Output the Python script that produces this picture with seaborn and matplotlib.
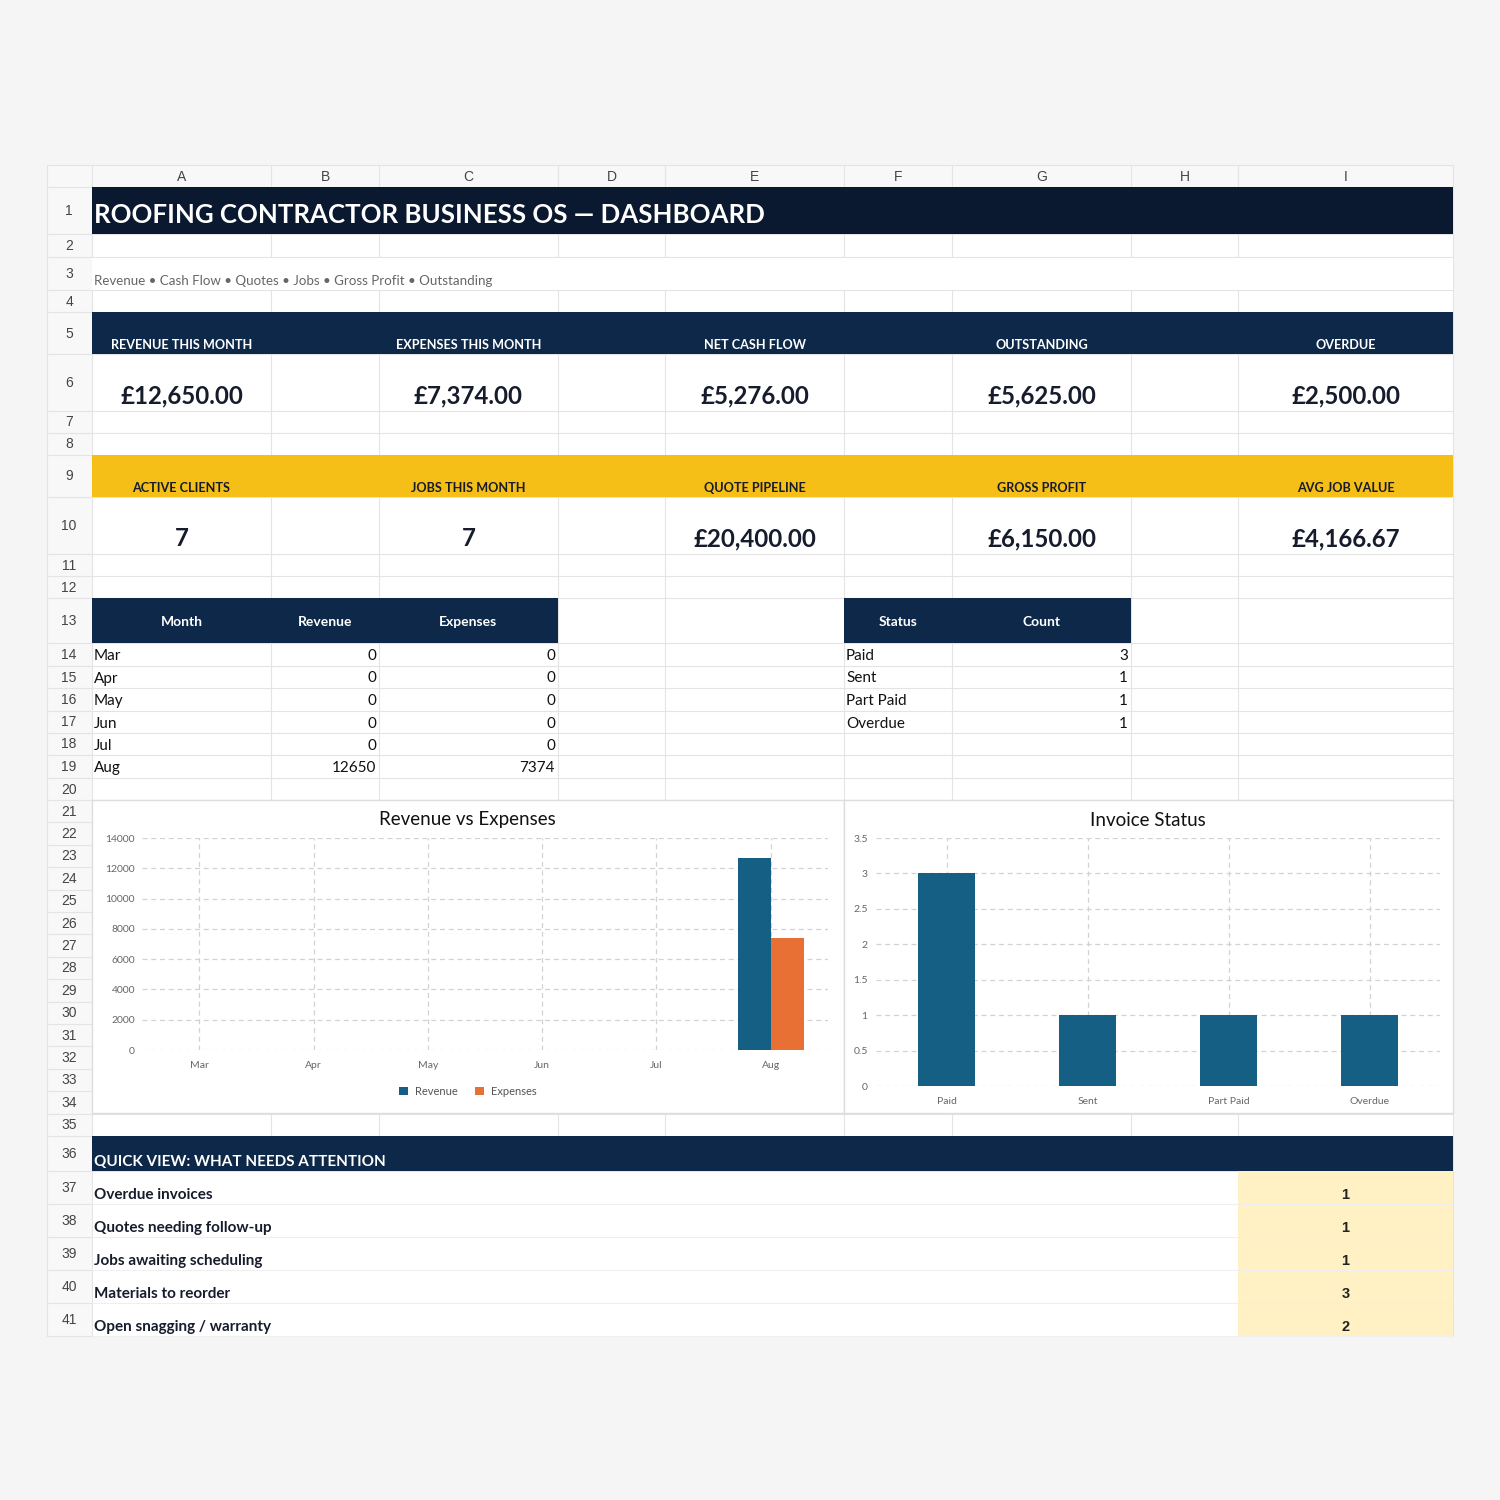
"""Roofing contractor dashboard, drawn as a spreadsheet view."""
import matplotlib
matplotlib.use("Agg")
import matplotlib.pyplot as plt
from matplotlib.patches import Rectangle
import seaborn as sns
import pandas as pd

# data
months = ["Mar", "Apr", "May", "Jun", "Jul", "Aug"]
revenue = [0, 0, 0, 0, 0, 12650]
expenses = [0, 0, 0, 0, 0, 7374]
statuses = ["Paid", "Sent", "Part Paid", "Overdue"]
status_counts = [3, 1, 1, 1]
kpi_top_labels = ["REVENUE THIS MONTH", "EXPENSES THIS MONTH", "NET CASH FLOW",
                  "OUTSTANDING", "OVERDUE"]
kpi_top_values = ["£12,650.00", "£7,374.00", "£5,276.00", "£5,625.00", "£2,500.00"]
kpi_bottom_labels = ["ACTIVE CLIENTS", "JOBS THIS MONTH", "QUOTE PIPELINE",
                     "GROSS PROFIT", "AVG JOB VALUE"]
kpi_bottom_values = ["7", "7", "£20,400.00", "£6,150.00", "£4,166.67"]
attention_items = ["Overdue invoices", "Quotes needing follow-up",
                   "Jobs awaiting scheduling", "Materials to reorder",
                   "Open snagging / warranty"]
attention_counts = [1, 1, 1, 3, 2]
col_letters = list("ABCDEFGHI")
title = "ROOFING CONTRACTOR BUSINESS OS — DASHBOARD"
subtitle = "Revenue • Cash Flow • Quotes • Jobs • Gross Profit • Outstanding"

# colours
NAVY_DARK = "#0a1830"
NAVY = "#0d2848"
YELLOW = "#f6bf18"
PALE_YELLOW = "#fff1c4"
BLUE = "#165f84"
ORANGE = "#e87034"
GRID = "#e4e4e4"
TEXT = "#161c2c"

sns.set_theme(style="white")
plt.rcParams["font.family"] = ["Lato", "DejaVu Sans"]

# sheet geometry in pixels
col_edges = [92, 271, 379, 558, 665, 844, 952, 1131, 1238, 1453]
row_edges = [187, 234, 257, 290, 312, 354, 411, 433, 455, 497, 554, 576,
             598, 643, 666, 688, 711, 733, 755, 778, 800]
row_edges += [800 + 22.4 * k for k in range(1, 15)]
row_edges += [1136, 1171]
row_edges += [1171 + 33 * k for k in range(1, 6)]
col_mid = [(col_edges[i] + col_edges[i + 1]) / 2 for i in range(9)]


def row_top(r):
    return row_edges[r - 1]


def row_bot(r):
    return row_edges[r]


fig = plt.figure(figsize=(15, 15), dpi=100, facecolor="#f5f5f5")
ax = fig.add_axes([0, 0, 1, 1])
ax.set_xlim(0, 1500)
ax.set_ylim(1500, 0)
ax.axis("off")


def box(x0, x1, y0, y1, color, edge="none", lw=0, z=1):
    ax.add_patch(Rectangle((x0, y0), x1 - x0, y1 - y0, facecolor=color,
                           edgecolor=edge, linewidth=lw, zorder=z))


# sheet background and headers
box(92, 1453, 187, row_edges[-1], "white")
box(47, 1453, 165, 187, "#f8f8f8")
box(47, 92, 187, row_edges[-1], "#f8f8f8")

for x in [47] + col_edges:
    ax.plot([x, x], [165, row_edges[-1]], color=GRID, lw=0.8, zorder=2)
for y in [165] + row_edges:
    ax.plot([47, 1453], [y, y], color=GRID, lw=0.8, zorder=2)

for i, letter in enumerate(col_letters):
    ax.text(col_mid[i], 177, letter, ha="center", va="center", fontsize=10,
            color="#444444", family=["Liberation Sans"], zorder=5)
for r in range(1, 42):
    ax.text(69, (row_top(r) + row_bot(r)) / 2 + 0.5, str(r), ha="center",
            va="center", fontsize=10, color="#444444",
            family=["Liberation Sans"], zorder=5)

# title rows
box(92, 1453, row_top(1), row_bot(1), NAVY_DARK, z=3)
ax.text(94, 223, title, ha="left", va="baseline", fontsize=18.6,
        fontweight="bold", color="white", zorder=5)
box(92, 1453, row_top(3) + 0.5, row_bot(3) - 0.5, "white", z=3)
ax.text(94, 285, subtitle, ha="left", va="baseline", fontsize=9.65,
        color="#666666", zorder=5)

# KPI blocks
kpi_cols = [0, 2, 4, 6, 8]
box(92, 1453, row_top(5), row_bot(5), NAVY, z=3)
box(92, 1453, row_top(9), row_bot(9), YELLOW, z=3)
for c, lab, val in zip(kpi_cols, kpi_top_labels, kpi_top_values):
    ax.text(col_mid[c], row_bot(5) - 5, lab, ha="center", va="baseline",
            fontsize=9.1, fontweight="bold", color="white", zorder=5)
    ax.text(col_mid[c], row_bot(6) - 8, val, ha="center", va="baseline",
            fontsize=17.3, fontweight="bold", color=TEXT, zorder=5)
for c, lab, val in zip(kpi_cols, kpi_bottom_labels, kpi_bottom_values):
    ax.text(col_mid[c], row_bot(9) - 5, lab, ha="center", va="baseline",
            fontsize=9.1, fontweight="bold", color=TEXT, zorder=5)
    ax.text(col_mid[c], row_bot(10) - 8, val, ha="center", va="baseline",
            fontsize=17.3, fontweight="bold", color=TEXT, zorder=5)

# source tables
box(col_edges[0], col_edges[3], row_top(13), row_bot(13), NAVY, z=3)
box(col_edges[5], col_edges[7], row_top(13), row_bot(13), NAVY, z=3)
hy = (row_top(13) + row_bot(13)) / 2 + 2
for c, lab in zip([0, 1, 2, 5, 6], ["Month", "Revenue", "Expenses", "Status", "Count"]):
    ax.text(col_mid[c], hy, lab, ha="center", va="center", fontsize=10,
            fontweight="bold", color="white", zorder=5)
for i, (m, rv, ex) in enumerate(zip(months, revenue, expenses)):
    y = (row_top(14 + i) + row_bot(14 + i)) / 2 + 1.5
    ax.text(94, y, m, ha="left", va="center", fontsize=11, color="#111111", zorder=5)
    ax.text(col_edges[2] - 3, y, str(rv), ha="right", va="center",
            fontsize=11, color="#111111", zorder=5)
    ax.text(col_edges[3] - 3, y, str(ex), ha="right", va="center",
            fontsize=11, color="#111111", zorder=5)
for i, (s, n) in enumerate(zip(statuses, status_counts)):
    y = (row_top(14 + i) + row_bot(14 + i)) / 2 + 1.5
    ax.text(col_edges[5] + 2, y, s, ha="left", va="center", fontsize=11,
            color="#111111", zorder=5)
    ax.text(col_edges[7] - 3, y, str(n), ha="right", va="center",
            fontsize=11, color="#111111", zorder=5)

# quick view
box(92, 1453, row_top(36), row_bot(36), NAVY, z=3)
ax.text(94, row_bot(36) - 5, "QUICK VIEW: WHAT NEEDS ATTENTION", ha="left",
        va="baseline", fontsize=11, fontweight="bold", color="white", zorder=5)
box(92.5, col_edges[8], row_top(37) + 0.5, row_bot(41), "white", z=3)
for r in range(37, 42):
    ax.plot([92, 1453], [row_bot(r), row_bot(r)], color="#efefef", lw=0.8, zorder=3.5)
box(col_edges[8], 1453, row_top(37), row_bot(41), PALE_YELLOW, z=3)
for i, (item, n) in enumerate(zip(attention_items, attention_counts)):
    ax.text(94, row_bot(37 + i) - 5, item, ha="left", va="baseline",
            fontsize=11, fontweight="bold", color=TEXT, zorder=5)
    ax.text(col_mid[8], row_bot(37 + i) - 5, str(n), ha="center",
            va="baseline", fontsize=10.5, fontweight="bold", color="#222222",
            family=["Liberation Sans"], zorder=5)

# chart frames
box(92, 844, 800, 1113, "white", edge="#dddddd", lw=1, z=4)
box(844, 1453, 800, 1113, "white", edge="#dddddd", lw=1, z=4)
ax.text(467, 820, "Revenue vs Expenses", ha="center", va="center",
        fontsize=13.5, color="#111111", zorder=5)
ax.text(1148, 820, "Invoice Status", ha="center", va="center",
        fontsize=13.5, color="#111111", zorder=5)


def chart_axes(x0, x1, y0, y1):
    a = fig.add_axes([x0 / 1500, (1500 - y1) / 1500,
                      (x1 - x0) / 1500, (y1 - y0) / 1500])
    a.set_facecolor("none")
    a.set_zorder(10)
    for side in a.spines.values():
        side.set_visible(False)
    a.set_axisbelow(True)
    a.tick_params(length=0, labelsize=7.5, labelcolor="#666666")
    return a


def style_chart(a):
    a.set_xlabel("")
    a.set_ylabel("")
    a.grid(True, color="#d2d2d2", linestyle=(0, (4, 3)), linewidth=0.9)
    a.tick_params(axis="x", pad=8)


# Revenue vs Expenses
money = pd.DataFrame({
    "Month": months * 2,
    "Amount": revenue + expenses,
    "Series": ["Revenue"] * len(months) + ["Expenses"] * len(months),
})
ax1 = chart_axes(142, 828, 838, 1050)
sns.barplot(data=money, x="Month", y="Amount", hue="Series", ax=ax1,
            palette=[BLUE, ORANGE], width=0.58, linewidth=0, saturation=1)
ax1.set_ylim(0, 14000)
ax1.set_yticks(range(0, 14001, 2000))
style_chart(ax1)
ax1.tick_params(axis="y", pad=5)
ax1.legend(loc="center", bbox_to_anchor=(0.475, -0.195), ncol=2,
           frameon=False, fontsize=8, handlelength=0.8, handleheight=0.8,
           columnspacing=1.6, handletextpad=0.6, labelcolor="#555555")

# Invoice Status
invoices = pd.DataFrame({"Status": statuses, "Count": status_counts})
ax2 = chart_axes(876, 1440, 838, 1086)
sns.barplot(data=invoices, x="Status", y="Count", ax=ax2, color=BLUE,
            width=0.4, linewidth=0, saturation=1)
ax2.set_ylim(0, 3.5)
ax2.set_yticks([0, 0.5, 1, 1.5, 2, 2.5, 3, 3.5])
ax2.set_yticklabels(["0", "0.5", "1", "1.5", "2", "2.5", "3", "3.5"])
style_chart(ax2)
ax2.tick_params(axis="y", pad=6)

fig.savefig("out.png", dpi=100, facecolor=fig.get_facecolor())
